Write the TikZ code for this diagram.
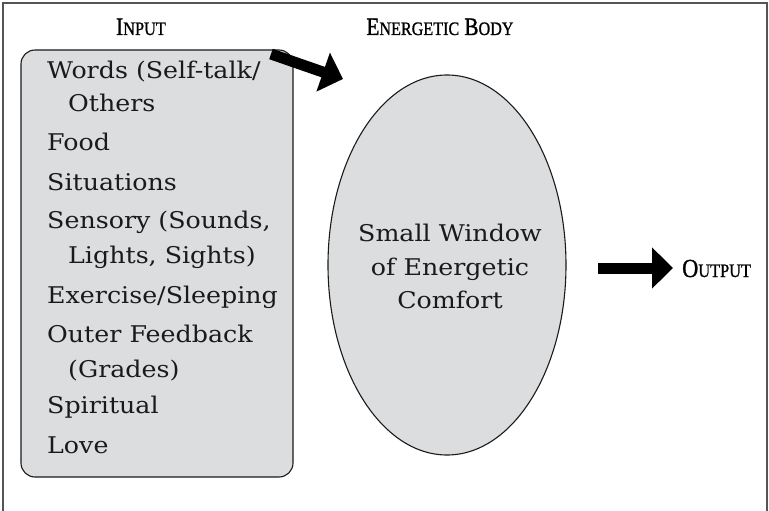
\documentclass[tikz,border=0pt]{standalone}
\usepackage{fontspec}
\setmainfont{DejaVu Serif}[FakeStretch=1.1]
\newfontfamily\headfont{Liberation Serif}[FakeBold=1.2]
\usetikzlibrary{arrows.meta,shapes.geometric}
\definecolor{fillgray}{HTML}{DCDDDF}
\definecolor{framegray}{HTML}{555555}
\definecolor{inkgray}{HTML}{1A1A1A}
\newcommand{\fakesc}[3][25]{{\fontsize{#1}{#1}\selectfont #2}{\fontsize{19}{19}\selectfont #3}}
\tikzset{
  listbox/.style={draw=inkgray, line width=1.1pt, fill=fillgray, rounded corners=14pt,
    minimum width=272pt, minimum height=427pt, inner sep=0pt},
  bodyellipse/.style={ellipse, draw=inkgray, line width=1.1pt, fill=fillgray,
    minimum width=238pt, minimum height=380pt, inner sep=0pt},
  item/.style={anchor=base west, inner sep=0pt, text=inkgray,
    font=\fontsize{23}{27}\selectfont},
  ctext/.style={anchor=base, inner sep=0pt, text=inkgray,
    font=\fontsize{23}{27}\selectfont},
  heading/.style={anchor=base, inner sep=0pt, text=black, font=\headfont},
  bigarrow/.style={line width=11pt, black, -{Triangle[length=21pt, width=40pt]}},
}
\begin{document}
\begin{tikzpicture}[x=1pt,y=-1pt]
\useasboundingbox (0,0) rectangle (769,511);
% outer frame (open at the bottom)
\draw[framegray, line width=2pt] (3,511) -- (3,3) -- (767,3) -- (767,511);

% headings
\node[heading] (hin) at (141,35) {\scalebox{0.86}[1]{\fakesc{I}{NPUT}}};
\node[heading] (hbody) at (440,35) {\scalebox{0.85}[1]{\fakesc{E}{NERGETIC}\hspace{6pt}\fakesc{B}{ODY}}};

% input list box
\node[listbox] (input) at (157,263.5) {};
\node[item] (w1) at (47,78) {Words (Self-talk/};
\node[item] (w2) at (68,112) {Others};
\node[item] (w3) at (47,150) {Food};
\node[item] (w4) at (47,190) {Situations};
\node[item] (w5) at (47,228) {Sensory (Sounds,};
\node[item] (w6) at (68,263) {Lights, Sights)};
\node[item] (w7) at (47,303) {Exercise/Sleeping};
\node[item] (w8) at (47,342) {Outer Feedback};
\node[item] (w9) at (68,377) {(Grades)};
\node[item] (w10) at (47,413) {Spiritual};
\node[item] (w11) at (47,453) {Love};

% energetic body
\node[bodyellipse] (body) at (447,265) {};
\node[ctext] (b1) at (450,241) {Small Window};
\node[ctext] (b2) at (450,275) {of Energetic};
\node[ctext] (b3) at (450,308) {Comfort};

% output
\node[anchor=base west, inner sep=0pt, font=\headfont] (output) at (682,277)
  {\scalebox{0.86}[1]{\fakesc[26]{O}{UTPUT}}};

% arrows
\coordinate (inA) at (271,54);
\coordinate (inB) at (343,79);
\draw[bigarrow] (inA) -- (inB);
\coordinate (outA) at (598,268);
\coordinate (outB) at (673,268);
\draw[bigarrow] (outA) -- (outB);
\end{tikzpicture}
\end{document}
